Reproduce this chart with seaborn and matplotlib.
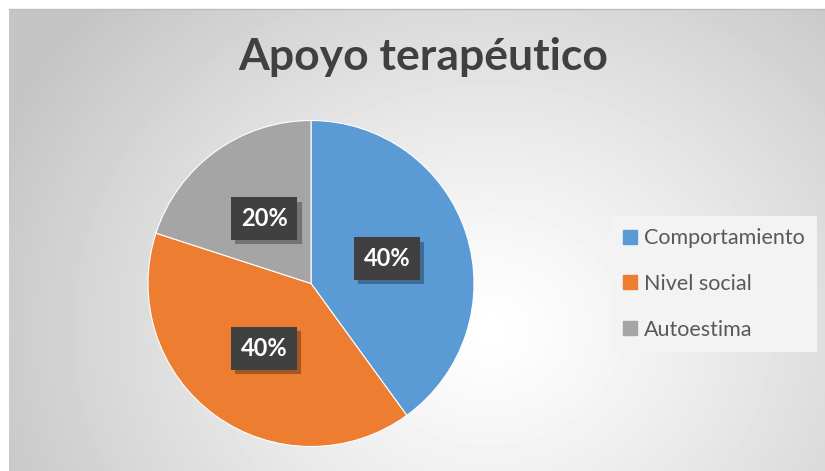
import numpy as np
import matplotlib
matplotlib.use("Agg")
import matplotlib.pyplot as plt
from matplotlib.lines import Line2D
import matplotlib.patheffects as pe
import seaborn as sns

# data
categories = ["Comportamiento", "Nivel social", "Autoestima"]
values = [40, 40, 20]
colors = ["#5B9BD5", "#ED7D31", "#A5A5A5"]
title = "Apoyo terapéutico"

sns.set_style("white")
plt.rcParams["font.family"] = ["Lato", "DejaVu Sans"]

W, H = 825, 471
fig = plt.figure(figsize=(W / 100, H / 100), dpi=100)
fig.patch.set_facecolor("white")

# chart area background: radial gradient white -> light grey
bg = fig.add_axes([9 / W, 0, (W - 9) / W, (H - 9) / H])
yy, xx = np.mgrid[0:H - 9, 0:W - 9]
d = np.sqrt((xx - 480) ** 2 + ((yy - 320) * 1.15) ** 2) / 540
d = np.clip(d, 0, 1)
shade = 1.0 - 0.23 * d ** 1.2
bg.imshow(shade, cmap="gray", vmin=0, vmax=1, aspect="auto", interpolation="bilinear")
bg.set_axis_off()
fig.add_artist(Line2D([9 / W, 1], [1 - 9 / H, 1 - 9 / H], color="#bdbdbd", lw=1))

# pie
cx, cy, R = 311, 283.5, 163
m = 175
ax = fig.add_axes([(cx - m) / W, (H - cy - m) / H, 2 * m / W, 2 * m / H])
wedges, texts, autotexts = ax.pie(
    values, colors=colors, startangle=90, counterclock=False,
    autopct="%1.0f%%", pctdistance=0.49, radius=1,
    wedgeprops=dict(edgecolor="white", linewidth=0.8),
)
ax.set_xlim(-m / R, m / R)
ax.set_ylim(-m / R, m / R)
ax.set_axis_off()
for t in autotexts:
    t.set_fontsize(17)
    t.set_fontweight("bold")
    t.set_color("white")
    t.set_bbox(dict(boxstyle="square,pad=0.42", facecolor="#404040", edgecolor="none"))
    t.get_bbox_patch().set_path_effects(
        [pe.SimplePatchShadow(offset=(3, -3), shadow_rgbFace="black", alpha=0.3), pe.Normal()])
    t.set_zorder(5)

fig.text(423 / W, 1 - 57 / H, title, ha="center", va="center",
         fontsize=32, fontweight="bold", color="#404040")

handles = [Line2D([], [], marker="s", linestyle="none", markersize=10,
                  markerfacecolor=c, markeredgecolor=c) for c in colors]
leg = fig.legend(handles, categories, loc="center left",
                 bbox_to_anchor=(611 / W, 1 - 284 / H), fontsize=15.5,
                 labelspacing=1.2, handlelength=0.7, handletextpad=0.3,
                 borderpad=0.55, borderaxespad=0, frameon=True, fancybox=False,
                 labelcolor="#595959")
leg.get_frame().set_facecolor("#f3f3f3")
leg.get_frame().set_edgecolor("none")
leg.get_frame().set_alpha(1)

fig.savefig("out.png", dpi=100)
